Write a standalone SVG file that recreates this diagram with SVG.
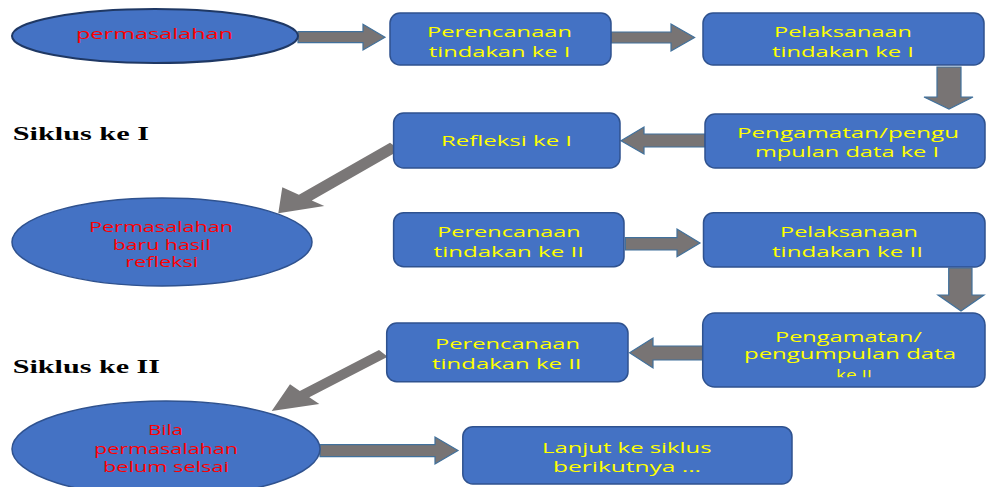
<svg xmlns="http://www.w3.org/2000/svg" width="989" height="487" viewBox="0 0 989 487">
<defs>
<style>
.box{fill:#4472C4;stroke:#2F528F;stroke-width:1.5}
.ell{fill:#4472C4;stroke:#2F528F;stroke-width:1.5}
.arr{fill:#787474;stroke:#41719C;stroke-width:1.2}
.diag{fill:#7A7777;stroke:none}
.yt{font-family:"Open Sans","Noto Sans",sans-serif;font-size:14.5px;fill:#FFFF00;text-anchor:middle}
.rt{font-family:"Open Sans","Noto Sans",sans-serif;font-size:14px;fill:#FF0000;text-anchor:middle}
.lab{font-family:"Liberation Serif","Times New Roman",serif;font-size:19px;font-weight:bold;fill:#000000}
</style>
<clipPath id="clipB7"><rect x="700" y="310" width="289" height="67.3"/></clipPath>
</defs>
<rect x="0" y="0" width="989" height="487" fill="#FFFFFF"/>

<g id="connectors">
<polygon class="arr" points="298,31.7 363,31.7 363,24.3 385,37.3 363,50 363,42.7 298,42.7"/>
<polygon class="arr" points="611,32 671,32 671,24 694.6,37.5 671,51 671,43 611,43"/>
<polygon class="arr" points="937,67 961,67 961,97 973,97 949,109 924,97 937,97"/>
<polygon class="arr" points="705,134 644,134 644,127 621,140.7 644,154 644,147 705,147"/>
<polygon class="diag" points="390,142.7 298.9,194.7 282.3,187.3 278.3,213.3 324.3,206 311.8,200.4 400,150"/>
<polygon class="arr" points="625.4,237.7 677,237.7 677,229 700,243 677,256.7 677,250 625.4,250"/>
<polygon class="arr" points="948.7,268 972,268 972,295 984,295 961,311 938,295 948.7,295"/>
<polygon class="arr" points="703,346 653,346 653,338 629.6,352.7 653,368 653,360 703,360"/>
<polygon class="diag" points="379,350 299.8,390.9 290,384.3 271.7,411 319.3,404 309.3,397.3 387.7,356.7"/>
<polygon class="arr" points="320,444.7 435,444.7 435,437 458,450.5 435,464 435,456.7 320,456.7"/>
</g>

<g id="label-siklus1"><text class="lab" x="12.7" y="140" textLength="136.3" lengthAdjust="spacingAndGlyphs">Siklus ke I</text></g>
<g id="label-siklus2"><text class="lab" x="12.7" y="372.7" textLength="147.3" lengthAdjust="spacingAndGlyphs">Siklus ke II</text></g>

<g id="e1">
<ellipse cx="155" cy="36" rx="143" ry="27" fill="#4472C4" stroke="#1F3864" stroke-width="2"/>
<text class="rt" x="154.5" y="39" textLength="157" lengthAdjust="spacingAndGlyphs" style="font-size:15px">permasalahan</text>
</g>

<g id="b1">
<rect class="box" x="390" y="13" width="221" height="52" rx="10"/>
<text class="yt" x="499.5" y="37" textLength="145" lengthAdjust="spacingAndGlyphs">Perencanaan</text>
<text class="yt" x="499.5" y="57" textLength="141.5" lengthAdjust="spacingAndGlyphs">tindakan ke I</text>
</g>

<g id="b2">
<rect class="box" x="703" y="13" width="281" height="52" rx="10"/>
<text class="yt" x="843" y="37" textLength="138" lengthAdjust="spacingAndGlyphs">Pelaksanaan</text>
<text class="yt" x="843" y="57" textLength="142" lengthAdjust="spacingAndGlyphs">tindakan ke I</text>
</g>

<g id="b3">
<rect class="box" x="393.6" y="113" width="226.4" height="55" rx="10"/>
<text class="yt" x="506.5" y="146" textLength="131" lengthAdjust="spacingAndGlyphs">Refleksi ke I</text>
</g>

<g id="b4">
<rect class="box" x="705" y="114" width="280" height="54" rx="10"/>
<text class="yt" x="848" y="138" textLength="222" lengthAdjust="spacingAndGlyphs">Pengamatan/pengu</text>
<text class="yt" x="847" y="157" textLength="184" lengthAdjust="spacingAndGlyphs">mpulan data ke I</text>
</g>

<g id="e2">
<ellipse class="ell" cx="162" cy="242" rx="150" ry="44"/>
<text class="rt" x="161" y="232" textLength="144" lengthAdjust="spacingAndGlyphs">Permasalahan</text>
<text class="rt" x="161.7" y="249.7" textLength="98" lengthAdjust="spacingAndGlyphs">baru hasil</text>
<text class="rt" x="161.7" y="267.3" textLength="73" lengthAdjust="spacingAndGlyphs">refleksi</text>
</g>

<g id="b5">
<rect class="box" x="393.6" y="212.7" width="230.4" height="54" rx="10"/>
<text class="yt" x="509" y="237" textLength="143.5" lengthAdjust="spacingAndGlyphs">Perencanaan</text>
<text class="yt" x="508.8" y="256.7" textLength="150.4" lengthAdjust="spacingAndGlyphs">tindakan ke II</text>
</g>

<g id="b6">
<rect class="box" x="703.5" y="212.7" width="281.5" height="54.3" rx="10"/>
<text class="yt" x="849" y="237" textLength="138" lengthAdjust="spacingAndGlyphs">Pelaksanaan</text>
<text class="yt" x="847.5" y="256.7" textLength="151" lengthAdjust="spacingAndGlyphs">tindakan ke II</text>
</g>

<g id="b7">
<rect class="box" x="702.7" y="313" width="282.3" height="74" rx="12"/>
<text class="yt" x="848.5" y="341.7" textLength="147" lengthAdjust="spacingAndGlyphs">Pengamatan/</text>
<text class="yt" x="850" y="359" textLength="212" lengthAdjust="spacingAndGlyphs">pengumpulan data</text>
<text class="yt" x="854" y="379.5" textLength="36" lengthAdjust="spacingAndGlyphs" clip-path="url(#clipB7)">ke II</text>
</g>

<g id="b8">
<rect class="box" x="386.7" y="323" width="241.3" height="58.7" rx="10"/>
<text class="yt" x="507.5" y="349" textLength="145" lengthAdjust="spacingAndGlyphs">Perencanaan</text>
<text class="yt" x="506.8" y="369" textLength="149.5" lengthAdjust="spacingAndGlyphs">tindakan ke II</text>
</g>

<g id="e3">
<ellipse class="ell" cx="166" cy="449" rx="154" ry="48"/>
<text class="rt" x="165.5" y="435" textLength="35" lengthAdjust="spacingAndGlyphs">Bila</text>
<text class="rt" x="166" y="454" textLength="144" lengthAdjust="spacingAndGlyphs">permasalahan</text>
<text class="rt" x="166" y="471.7" textLength="126" lengthAdjust="spacingAndGlyphs">belum selsai</text>
</g>

<g id="b9">
<rect class="box" x="462.8" y="426.7" width="329.2" height="57.3" rx="10"/>
<text class="yt" x="626.8" y="452.7" textLength="169.6" lengthAdjust="spacingAndGlyphs">Lanjut ke siklus</text>
<text class="yt" x="627" y="471.7" textLength="148" lengthAdjust="spacingAndGlyphs">berikutnya ...</text>
</g>
</svg>
